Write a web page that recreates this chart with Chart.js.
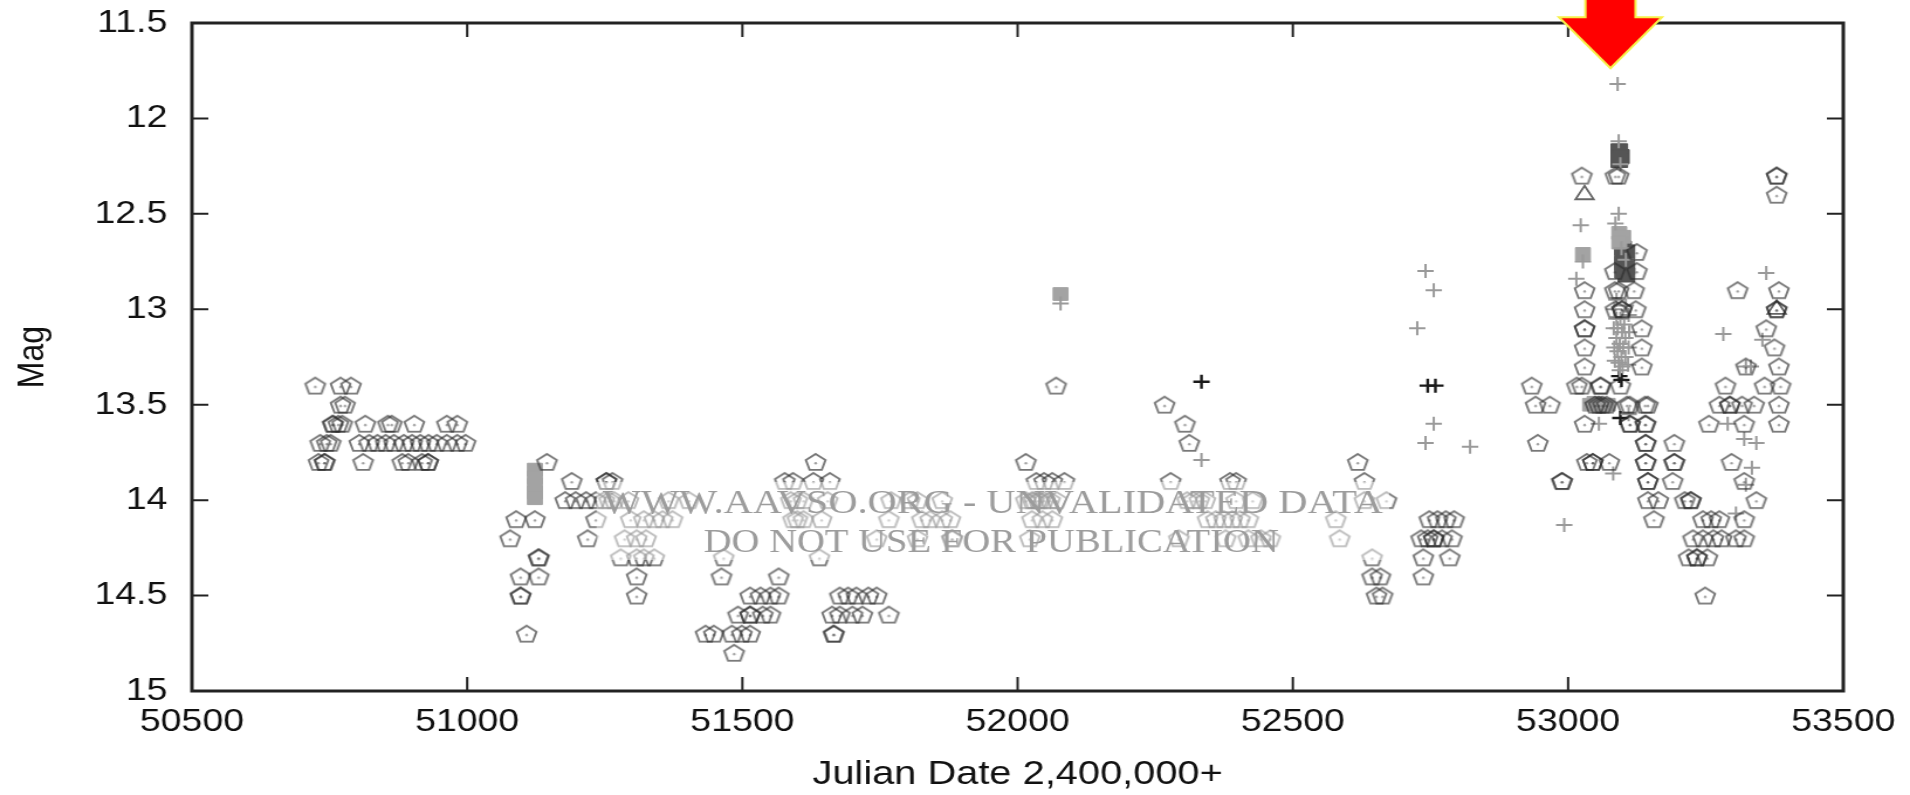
<!DOCTYPE html>
<html>
<head>
<meta charset="utf-8">
<title>Light curve</title>
<script src="https://cdn.jsdelivr.net/npm/chart.js@4.4.1/dist/chart.umd.min.js"></script>
<style>
  html, body { margin: 0; padding: 0; background: #ffffff; overflow: hidden; }
</style>
</head>
<body>
<!-- the bitmap is drawn narrower and widened to the full page width -->
<canvas id="lc" width="1632" height="795" style="display:block;width:1910px;height:795px;"></canvas>
<script>
// ---- axis ticks ----
const xTickValues = [50500, 51000, 51500, 52000, 52500, 53000, 53500];
const xTickLabels = ['50500', '51000', '51500', '52000', '52500', '53000', '53500'];
const yTickValues = [11.5, 12, 12.5, 13, 13.5, 14, 14.5, 15];
const yTickLabels = ['11.5', '12', '12.5', '13', '13.5', '14', '14.5', '15'];

// ---- visual estimates [JD - 2400000, magnitude] ----
const visualObs = [
  [50724,13.4],[50770,13.4],[50789,13.4],
  [50770,13.5],[50778,13.5],
  [50756,13.6],[50756,13.6],[50766,13.6],[50773,13.6],[50815,13.6],[50856,13.6],[50863,13.6],[50904,13.6],[50963,13.6],[50982,13.6],
  [50733,13.7],[50745,13.7],[50752,13.7],[50804,13.7],[50822,13.7],[50837,13.7],[50852,13.7],[50867,13.7],[50885,13.7],[50900,13.7],[50915,13.7],[50930,13.7],[50945,13.7],[50963,13.7],[50982,13.7],[50997,13.7],
  [50730,13.8],[50741,13.8],[50741,13.8],[50811,13.8],[50882,13.8],[50893,13.8],[50918,13.8],[50929,13.8],[50929,13.8],

  [51145,13.8],
  [51190,13.9],[51253,13.9],[51253,13.9],[51264,13.9],
  [51178,14.0],[51197,14.0],[51216,14.0],[51234,14.0],[51249,14.0],[51258,14.0],[51267,14.0],[51293,14.0],[51366,14.0],[51403,14.0],
  [51089,14.1],[51123,14.1],[51234,14.1],[51297,14.1],[51321,14.1],[51340,14.1],[51355,14.1],[51373,14.1],
  [51078,14.2],[51219,14.2],[51286,14.2],[51308,14.2],[51325,14.2],
  [51130,14.3],[51130,14.3],[51279,14.3],[51308,14.3],[51321,14.3],[51340,14.3],
  [51097,14.4],[51130,14.4],[51308,14.4],
  [51097,14.5],[51097,14.5],[51308,14.5],
  [51108,14.7],

  [51466,14.3],[51462,14.4],[51566,14.4],
  [51514,14.5],[51533,14.5],[51551,14.5],[51566,14.5],
  [51492,14.6],[51514,14.6],[51514,14.6],[51537,14.6],[51551,14.6],
  [51433,14.7],[51448,14.7],[51481,14.7],[51499,14.7],[51514,14.7],
  [51485,14.8],
  [51633,13.8],
  [51577,13.9],[51592,13.9],[51629,13.9],[51659,13.9],
  [51588,14.0],[51600,14.0],[51611,14.0],[51655,14.0],
  [51592,14.1],[51600,14.1],[51611,14.1],[51644,14.1],
  [51640,14.3],
  [51677,14.5],[51692,14.5],[51707,14.5],[51729,14.5],[51744,14.5],
  [51663,14.6],[51677,14.6],[51700,14.6],[51718,14.6],[51766,14.6],
  [51666,14.7],[51666,14.7],
  [51770,14.0],[51804,14.0],[51818,14.0],[51863,14.0],
  [51766,14.1],[51826,14.1],[51841,14.1],[51863,14.1],[51878,14.1],
  [51744,14.2],[51818,14.2],[51881,14.2],[51881,14.2],

  [52070,13.4],
  [52015,13.8],
  [52034,13.9],[52048,13.9],[52063,13.9],[52085,13.9],
  [52015,14.0],[52026,14.0],[52030,14.0],[52037,14.0],[52041,14.0],[52048,14.0],[52059,14.0],[52071,14.0],
  [52026,14.1],[52045,14.1],[52063,14.1],
  [52022,14.2],

  [52267,13.5],[52304,13.6],[52312,13.7],
  [52278,13.9],[52386,13.9],[52397,13.9],
  [52308,14.0],[52319,14.0],[52330,14.0],[52341,14.0],[52397,14.0],[52427,14.0],
  [52345,14.1],[52360,14.1],[52375,14.1],[52390,14.1],[52404,14.1],[52419,14.1],
  [52293,14.2],[52378,14.2],[52419,14.2],[52442,14.2],[52459,14.2],

  [52618,13.8],[52630,13.9],[52630,14.0],[52670,14.0],
  [52578,14.1],[52585,14.2],
  [52644,14.3],[52644,14.4],[52659,14.4],[52652,14.5],[52663,14.5],
  [52748,14.1],[52763,14.1],[52778,14.1],[52793,14.1],
  [52733,14.2],[52745,14.2],[52756,14.2],[52756,14.2],[52771,14.2],[52789,14.2],
  [52737,14.3],[52785,14.3],
  [52737,14.4],

  [52934,13.4],[52941,13.5],[52967,13.5],[52945,13.7],[52989,13.9],[52989,13.9],
  [53025,12.3],[53030,12.9],[53030,13.0],[53030,13.1],[53030,13.1],[53030,13.2],[53030,13.3],[53016,13.4],[53025,13.4],[53059,13.4],[53059,13.4],
  [53049,13.5],[53056,13.5],[53063,13.5],[53070,13.5],[53112,13.5],[53145,13.5],
  [53030,13.6],[53112,13.6],[53141,13.6],
  [53141,13.7],[53141,13.7],[53193,13.7],
  [53034,13.8],[53045,13.8],[53045,13.8],[53075,13.8],[53141,13.8],[53141,13.8],[53193,13.8],[53193,13.8],
  [53145,13.9],[53145,13.9],[53190,13.9],
  [53145,14.0],[53164,14.0],[53212,14.0],[53223,14.0],[53223,14.0],
  [53156,14.1],[53245,14.1],[53260,14.1],[53275,14.1],[53320,14.1],
  [53227,14.2],[53245,14.2],[53264,14.2],[53279,14.2],[53305,14.2],[53320,14.2],
  [53219,14.3],[53234,14.3],[53234,14.3],[53253,14.3],
  [53249,14.5],
  [53086,12.3],[53092,12.3],[53125,12.7],[53085,12.8],[53125,12.8],[53085,12.9],[53092,12.9],[53120,12.9],
  [53086,13.0],[53098,13.0],[53098,13.0],[53123,13.0],[53134,13.1],[53134,13.2],[53134,13.3],
  [53095,13.4],[53107,13.5],[53140,13.5],[53113,13.6],[53140,13.6],
  [53379,12.3],[53379,12.3],[53379,12.4],[53308,12.9],[53383,12.9],[53379,13.0],[53379,13.0],[53360,13.1],
  [53375,13.2],[53323,13.3],[53383,13.3],[53286,13.4],[53357,13.4],[53386,13.4],
  [53275,13.5],[53294,13.5],[53294,13.5],[53316,13.5],[53338,13.5],[53383,13.5],
  [53256,13.6],[53320,13.6],[53383,13.6],
  [53297,13.8],[53320,13.9],[53342,14.0]
];

// ---- other observation types ----
const crossObs = [
  [52078,12.97],[52334,13.79],
  [52741,12.8],[52756,12.9],[52726,13.1],[52756,13.6],[52741,13.7],[52822,13.72],
  [52993,14.13],
  [53023,12.56],[53027,12.75],[53015,12.84],[53056,13.6],[53082,13.86],
  [53090,11.82],
  [53092,12.12],[53095,12.24],[53097,12.68],[53105,12.74],[53092,12.5],[53086,12.55],
  [53088,12.95],[53105,12.98],[53088,13.05],[53095,13.05],[53102,13.08],[53090,13.1],[53098,13.12],
  [53104,13.15],[53088,13.15],[53094,13.18],[53100,13.2],[53090,13.22],[53097,13.25],[53104,13.25],
  [53092,13.28],[53099,13.3],[53094,13.32],[53110,13.55],
  [53084,13.0],[53110,13.03],[53083,13.1],[53111,13.12],[53084,13.2],[53110,13.2],[53085,13.27],[53109,13.29],
  [53360,12.81],[53282,13.13],[53353,13.16],[53323,13.3],[53332,13.3],[53320,13.68],[53342,13.7],
  [53334,13.83],[53323,13.92],[53305,14.07],[53290,13.6]
];
const darkCrossObs = [
  [52334,13.38],[52745,13.4],[52759,13.4],[53093,13.35],[53097,13.37],[53095,13.57]
];
const lightSquareObs = [
  [52078,12.92],[53027,12.71],
  [51123,13.84],[51123,13.88],[51123,13.92],[51123,13.96],[51123,13.99],
  [53093,12.6],[53100,12.62],[53093,12.65],
  [53040,13.5],[53048,13.49],[53056,13.5],[53064,13.5],[53072,13.5]
];
const darkSquareObs = [
  [53093,12.17],[53096,12.2],[53093,12.22],
  [53100,12.68],[53100,12.72],[53100,12.76],[53100,12.8],[53106,12.7],[53106,12.78],[53106,12.82]
];
const triangleObs = [[53030,12.4],[53379,13.0]];

// arrow marking the outburst peak
const arrowJD = 53077;
const arrowMag = 11.737;

function toXY(list) { return list.map(([jd, mag]) => ({ x: jd, y: mag })); }

// open pentagon marker with a small centre dot
function makePentagon() {
  const c = document.createElement('canvas');
  c.width = 22; c.height = 22;
  const g = c.getContext('2d');
  const R = 8.8, cx = 11, cy = 11.8;
  g.beginPath();
  for (let i = 0; i < 5; i++) {
    const a = -Math.PI / 2 + i * 2 * Math.PI / 5;
    g.lineTo(cx + R * Math.cos(a), cy + R * Math.sin(a));
  }
  g.closePath();
  g.strokeStyle = 'rgba(40,40,40,0.64)';
  g.lineWidth = 1.9;
  g.stroke();
  g.fillStyle = 'rgba(40,40,40,0.45)';
  g.beginPath();
  g.arc(cx, cy + 0.5, 1.2, 0, 2 * Math.PI);
  g.fill();
  return c;
}

const decorations = {
  id: 'decorations',
  afterDatasetsDraw(chart) {
    const ctx = chart.ctx;
    const { left, right, top, bottom } = chart.chartArea;
    const w = right - left;
    const xs = chart.scales.x, ys = chart.scales.y;
    ctx.save();

    // watermark
    ctx.fillStyle = 'rgba(255,255,255,0.5)';
    ctx.fillRect(left + 0.245 * w, 482, 0.48 * w, 78);
    ctx.fillStyle = '#9c9c9c';
    ctx.textAlign = 'center';
    ctx.textBaseline = 'alphabetic';
    ctx.font = "34.5px 'Liberation Serif', 'Times New Roman', serif";
    ctx.fillText('WWW.AAVSO.ORG - UNVALIDATED DATA', left + 0.485 * w, 513);
    ctx.font = "33px 'Liberation Serif', 'Times New Roman', serif";
    ctx.fillText('DO NOT USE FOR PUBLICATION', left + 0.484 * w, 552);

    // frame
    ctx.strokeStyle = '#222';
    ctx.lineWidth = 3;
    ctx.strokeRect(left, top, right - left, bottom - top);

    // inward tick marks on all four sides
    ctx.lineWidth = 2;
    ctx.beginPath();
    xs.ticks.forEach(t => {
      const px = xs.getPixelForValue(t.value);
      if (px <= left + 1 || px >= right - 1) return;
      ctx.moveTo(px, bottom); ctx.lineTo(px, bottom - 14);
      ctx.moveTo(px, top); ctx.lineTo(px, top + 14);
    });
    ys.ticks.forEach(t => {
      const py = ys.getPixelForValue(t.value);
      if (py <= top + 1 || py >= bottom - 1) return;
      ctx.moveTo(left, py); ctx.lineTo(left + 14, py);
      ctx.moveTo(right, py); ctx.lineTo(right - 14, py);
    });
    ctx.stroke();

    // red arrow
    const tx = xs.getPixelForValue(arrowJD);
    const ty = ys.getPixelForValue(arrowMag);
    const headHalf = 44, shaftHalf = 21.4, headBase = ty - 51;
    ctx.beginPath();
    ctx.moveTo(tx, ty);
    ctx.lineTo(tx + headHalf, headBase);
    ctx.lineTo(tx + shaftHalf, headBase);
    ctx.lineTo(tx + shaftHalf, -5);
    ctx.lineTo(tx - shaftHalf, -5);
    ctx.lineTo(tx - shaftHalf, headBase);
    ctx.lineTo(tx - headHalf, headBase);
    ctx.closePath();
    ctx.fillStyle = '#ff0000';
    ctx.fill();
    ctx.strokeStyle = '#f6f04a';
    ctx.lineWidth = 2;
    ctx.stroke();
    ctx.restore();
  }
};

Chart.defaults.font.family = "'Liberation Sans', Arial, Helvetica, sans-serif";
Chart.defaults.color = '#111';

const pentagon = makePentagon();

new Chart(document.getElementById('lc'), {
  type: 'scatter',
  data: {
    datasets: [
      { label: 'Visual', data: toXY(visualObs), pointStyle: pentagon, pointRadius: 9 },
      { label: 'Unfiltered', data: toXY(crossObs), pointStyle: 'cross', pointRadius: 7,
        borderColor: '#9a9a9a', borderWidth: 2 },
      { label: 'Fainter-than', data: toXY(darkCrossObs), pointStyle: 'cross', pointRadius: 7,
        borderColor: '#1a1a1a', borderWidth: 2.4 },
      { label: 'CCD V', data: toXY(lightSquareObs), pointStyle: 'rect', pointRadius: 9,
        backgroundColor: '#a3a3a3', borderColor: '#a3a3a3', borderWidth: 1 },
      { label: 'CCD', data: toXY(darkSquareObs), pointStyle: 'rect', pointRadius: 10,
        backgroundColor: '#555555', borderColor: '#555555', borderWidth: 1 },
      { label: 'Other', data: toXY(triangleObs), pointStyle: 'triangle', pointRadius: 9,
        backgroundColor: 'rgba(0,0,0,0)', borderColor: '#666', borderWidth: 1.8 }
    ]
  },
  options: {
    responsive: false,
    devicePixelRatio: 1,
    animation: false,
    events: [],
    layout: { padding: { left: 0, right: 57, top: 23, bottom: 0 } },
    plugins: { legend: { display: false }, tooltip: { enabled: false } },
    scales: {
      x: {
        type: 'linear',
        min: 50500, max: 53500,
        grid: { display: false, drawTicks: false },
        border: { display: false },
        ticks: {
          stepSize: 500,
          padding: 12,
          maxRotation: 0,
          autoSkip: false,
          font: { size: 32, lineHeight: 1.2 },
          color: '#111',
          callback: (v) => { const i = xTickValues.indexOf(v); return i >= 0 ? xTickLabels[i] : ''; }
        },
        title: {
          display: true,
          text: 'Julian Date 2,400,000+',
          font: { size: 34, lineHeight: 1.2 },
          color: '#111',
          padding: { top: 0, bottom: 0 }
        },
        afterFit: (scale) => { scale.height = 104; }
      },
      y: {
        type: 'linear',
        reverse: true,
        min: 11.5, max: 15,
        grid: { display: false, drawTicks: false },
        border: { display: false },
        ticks: {
          stepSize: 0.5,
          padding: 21,
          autoSkip: false,
          font: { size: 32, lineHeight: 1.2 },
          color: '#111',
          callback: (v) => { const i = yTickValues.indexOf(v); return i >= 0 ? yTickLabels[i] : ''; }
        },
        title: {
          display: true,
          text: 'Mag',
          font: { size: 32, lineHeight: 1.2 },
          color: '#111',
          padding: { top: 9, bottom: 0 }
        },
        afterFit: (scale) => {
          scale.width = 164;
          scale.paddingTop = 0;
          scale.paddingBottom = 0;
        }
      }
    }
  },
  plugins: [decorations]
});
</script>
</body>
</html>
